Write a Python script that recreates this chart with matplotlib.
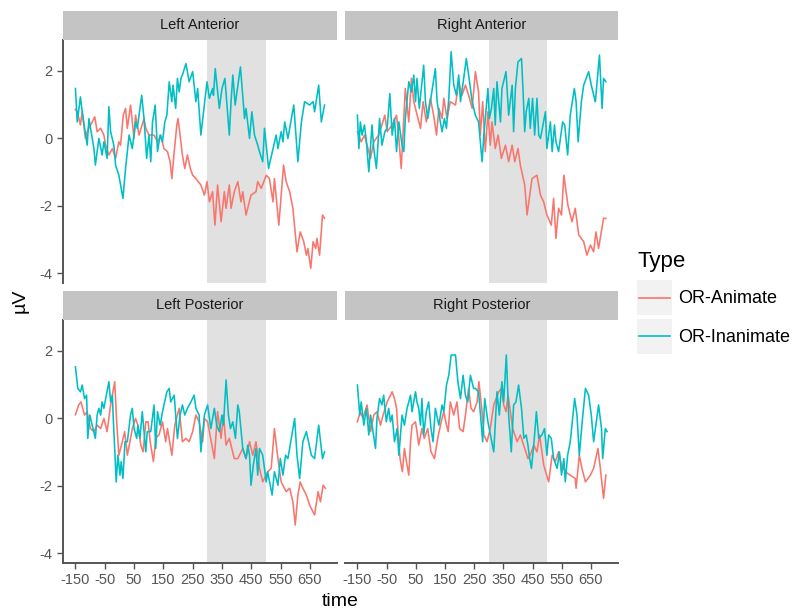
import matplotlib
matplotlib.use('Agg')
import matplotlib.pyplot as plt
from matplotlib.patches import Rectangle
from matplotlib.lines import Line2D

plt.rcParams['font.family'] = ['Liberation Sans', 'DejaVu Sans']
plt.rcParams['axes.unicode_minus'] = False

# ---------------- data ----------------
types = ['OR-Animate', 'OR-Inanimate']
colors = ['#F8766D', '#00BFC4']
panels = ['Left Anterior', 'Right Anterior', 'Left Posterior', 'Right Posterior']
x_ticks = [-150, -50, 50, 150, 250, 350, 450, 550, 650]
x_tick_labels = ['-150', '-50', '50', '150', '250', '350', '450', '550', '650']
y_ticks = [-4, -2, 0, 2]
y_tick_labels = ['-4', '-2', '0', '2']
window = [300, 500]

la_animate = [(-150, 0.85), (-144, 0.78), (-133, 0.39), (-127, 0.78), (-116, -0.01), (-110, 0.19), (-84, 0.63),
              (-76, 0.19), (-64, 0.29), (-53, 0.09), (-47, -0.21), (-36, -0.50), (-24, -0.31), (-13, -0.60),
              (-2, -0.11), (4, -0.21), (13, 0.68), (21, 0.88), (27, 0.29), (38, 0.98), (50, -0.01), (55, 0.68),
              (67, 0.09), (84, 0.58), (90, 0.29), (101, 0.09), (118, 0.09), (130, -0.11), (141, 0.09),
              (152, -0.31), (164, -0.40), (173, -0.70), (179, -1.20), (187, -0.40), (196, 0.39), (200, 0.58),
              (207, 0.09), (215, -0.50), (223, -0.90), (232, -0.50), (242, -0.90), (250, -1.10), (261, -1.20),
              (278, -1.39), (290, -1.69), (299, -1.29), (307, -1.89), (318, -1.59), (326, -2.58), (335, -1.39),
              (347, -2.48), (358, -1.59), (364, -2.08), (375, -1.39), (381, -2.08), (392, -1.59), (404, -1.29),
              (415, -1.89), (421, -1.59), (432, -2.28), (449, -1.69), (466, -1.59), (472, -1.29), (484, -1.49),
              (501, -1.10), (512, -1.20), (524, -1.89), (529, -1.20), (544, -2.58), (552, -1.69), (560, -0.80),
              (569, -1.29), (581, -1.59), (592, -2.08), (606, -3.37), (617, -2.78), (629, -3.07), (638, -3.47),
              (643, -3.27), (653, -3.86), (661, -3.07), (670, -3.27), (674, -2.97), (683, -3.47), (693, -2.28),
              (700, -2.38)]

la_inanimate = [(-150, 1.47), (-144, 0.48), (-133, 1.22), (-127, 0.78), (-110, -0.21), (-104, 0.58), (-87, -0.31),
                (-82, -0.80), (-70, -0.01), (-59, -0.50), (-53, -0.11), (-42, -0.60), (-36, 0.93), (-30, 0.19),
                (-19, -0.21), (-13, -0.80), (-2, -1.10), (4, -1.39), (12, -1.79), (21, -0.90), (33, 0.09),
                (44, -0.31), (55, 0.48), (61, 0.29), (76, 1.27), (84, 0.58), (93, -0.60), (101, 0.09), (107, -0.70),
                (113, 0.48), (122, 0.98), (130, -0.40), (139, 0.09), (147, -0.11), (155, 0.48), (162, 0.68),
                (170, 1.67), (179, 1.08), (183, 1.57), (192, 0.88), (198, 1.77), (204, 1.37), (210, 1.77),
                (215, 1.87), (227, 2.21), (238, 1.67), (250, 1.97), (261, 1.08), (267, 1.47), (278, 0.09),
                (299, 1.67), (307, 1.18), (318, 1.47), (321, 1.27), (327, 2.06), (341, 0.88), (350, 1.47),
                (360, 1.77), (375, 0.09), (381, 1.08), (387, 1.87), (395, 0.98), (413, 2.11), (427, 0.58),
                (432, 0.88), (444, -0.01), (452, 0.78), (461, 0.09), (472, -0.21), (478, -0.40), (489, -0.70),
                (495, 0.29), (509, -0.90), (514, -0.70), (535, 0.09), (541, -0.31), (552, 0.19), (558, -0.11),
                (564, 0.48), (575, -0.01), (595, 0.98), (609, -0.70), (621, 0.48), (632, 1.08), (649, 0.98),
                (661, 1.08), (666, 0.78), (680, 1.57), (689, 0.48), (700, 0.98)]

ra_animate = [(-150, 0.19), (-137, -0.11), (-126, 0.09), (-105, -0.60), (-94, -0.11), (-77, 0.09), (-56, 0.68),
              (-48, 0.19), (-31, 0.39), (-16, 0.68), (-8, -0.01), (0, -0.90), (6, 0.09), (14, 1.47), (26, 0.48),
              (35, 1.77), (43, 1.08), (66, 0.29), (75, 1.08), (86, 0.48), (100, 1.18), (111, 0.68), (121, 0.09),
              (129, 0.88), (140, 0.58), (146, 1.18), (157, 0.58), (168, 1.08), (186, 0.98), (197, 1.67),
              (208, 1.27), (220, 1.57), (231, 1.27), (243, 0.88), (254, 1.97), (265, 1.37), (271, 0.09),
              (279, 1.08), (288, -0.40), (297, 0.78), (305, -0.21), (311, 0.48), (322, -0.31), (332, 0.09),
              (343, -0.60), (357, -0.21), (368, -0.70), (380, -0.21), (389, -0.70), (400, -0.31), (408, -0.80),
              (423, -1.39), (431, -2.28), (448, -1.20), (465, -1.10), (477, -1.69), (488, -1.89), (499, -2.28),
              (514, -2.58), (522, -1.79), (530, -2.97), (539, -2.08), (549, -2.28), (557, -1.10), (571, -1.99),
              (585, -2.48), (596, -2.08), (608, -2.87), (625, -3.07), (636, -3.47), (648, -3.17), (659, -3.37),
              (667, -2.78), (676, -3.27), (693, -2.38), (701, -2.38)]

ra_inanimate = [(-150, 0.68), (-145, -0.31), (-140, 0.48), (-134, 0.09), (-126, 0.39), (-119, -0.11), (-111, -1.00),
                (-100, 0.39), (-94, -0.31), (-85, -0.90), (-74, 0.58), (-66, -0.21), (-56, 0.19), (-48, 0.29),
                (-39, 1.32), (-31, 0.09), (-23, 0.58), (-16, -0.40), (-8, 0.48), (3, -0.21), (9, -0.40), (14, 0.58),
                (26, 1.67), (35, 1.37), (43, 1.87), (49, 1.08), (54, 1.77), (62, 0.88), (77, 2.16), (83, 1.08),
                (91, 0.58), (117, 2.06), (123, 1.08), (134, 0.48), (140, 0.19), (148, 0.58), (155, 0.29),
                (163, 1.18), (171, 2.56), (180, 1.57), (189, 1.27), (197, 1.87), (203, 1.08), (214, 1.77),
                (223, 2.36), (231, 1.87), (243, 1.08), (254, 0.68), (265, 0.48), (277, -0.70), (283, 0.09),
                (297, 1.47), (302, 0.58), (309, 0.88), (317, 1.47), (322, 0.39), (328, 1.67), (340, 0.48),
                (345, 1.47), (359, 1.97), (368, 0.68), (380, 1.57), (385, 0.19), (391, 1.47), (400, 2.26),
                (412, 2.36), (417, 1.47), (423, 0.19), (428, 0.78), (437, 1.18), (442, 0.29), (450, 1.18),
                (457, 0.09), (465, 1.18), (471, 0.09), (477, -0.01), (494, 0.78), (499, -0.31), (511, 0.48),
                (517, -0.40), (525, 0.39), (530, -0.11), (539, -0.40), (553, 0.48), (560, 0.39), (570, -0.50),
                (579, 0.68), (593, 1.47), (599, 1.08), (606, -0.11), (617, 1.08), (625, 1.57), (642, 1.97),
                (651, 1.57), (662, 1.18), (665, 1.08), (679, 2.46), (688, 0.88), (693, 1.77), (701, 1.67)]

lp_animate = [(-150, 0.10), (-139, 0.39), (-131, 0.48), (-119, 0.09), (-110, 0.19), (-99, -0.31), (-87, -0.40),
              (-76, -0.21), (-64, -0.31), (-53, -0.01), (-42, -0.40), (-30, 0.39), (-16, 1.08), (-10, -0.01),
              (-2, -1.10), (10, -0.70), (18, -0.40), (27, -1.10), (36, -0.70), (44, -0.31), (55, -0.01),
              (63, -0.21), (73, -0.80), (81, -1.00), (90, -0.11), (98, -0.11), (105, -0.70), (116, -1.29),
              (124, -0.60), (135, -0.50), (147, -0.11), (158, -0.70), (164, -0.31), (179, -1.10), (189, -0.21),
              (198, 0.09), (204, 0.29), (215, -0.70), (227, -0.60), (238, -0.70), (250, -0.40), (261, 0.09),
              (272, -0.11), (284, -0.70), (290, -0.01), (301, -0.11), (324, -1.20), (335, 0.19), (347, -0.60),
              (355, 0.09), (364, -0.80), (375, -0.60), (392, -1.20), (404, -1.20), (421, -0.90), (432, -1.20),
              (444, -0.70), (455, -1.10), (466, -0.70), (478, -1.49), (489, -1.89), (506, -1.59), (518, -1.49),
              (529, -0.31), (541, -1.20), (552, -1.89), (569, -2.18), (581, -2.08), (592, -2.48), (600, -3.17),
              (609, -2.28), (617, -1.89), (626, -2.08), (638, -2.28), (649, -2.58), (666, -2.87), (678, -2.18),
              (686, -2.48), (695, -1.99), (703, -2.08)]

lp_inanimate = [(-150, 1.52), (-142, 0.88), (-133, 0.78), (-127, 0.98), (-119, 0.58), (-112, 0.68), (-108, -0.60),
                (-101, 0.09), (-93, -0.21), (-82, -0.60), (-76, 0.09), (-70, 0.29), (-64, 0.09), (-59, 0.48),
                (-53, 0.29), (-36, 1.08), (-30, 0.48), (-24, 0.68), (-21, -0.01), (-15, -1.10), (-11, -1.89),
                (-5, -1.10), (2, -1.69), (6, -1.29), (12, -1.79), (19, -0.70), (27, -0.70), (38, 0.09), (44, 0.29),
                (50, -0.31), (59, -0.60), (63, -0.21), (70, -0.60), (78, 0.19), (90, -1.00), (95, -0.40),
                (107, -0.40), (118, 0.39), (124, -0.90), (130, 0.19), (139, -0.21), (147, 0.19), (162, 0.78),
                (170, 0.88), (175, 0.48), (187, 0.68), (192, 0.09), (198, -0.60), (207, 0.09), (215, 0.39),
                (223, 0.09), (232, 0.29), (244, 0.48), (255, 0.68), (261, 0.29), (272, 0.09), (278, -1.00),
                (290, 0.09), (301, 0.39), (312, -0.31), (324, 0.29), (332, -0.21), (341, -0.40), (350, 0.09),
                (355, -0.21), (364, 1.13), (372, 0.09), (379, -0.31), (387, -0.11), (396, -0.60), (404, 0.39),
                (409, 0.19), (421, -0.90), (432, -1.20), (438, -0.80), (444, -1.10), (449, -1.99), (457, -1.39),
                (466, -0.90), (472, -1.69), (478, -0.90), (489, -1.10), (501, -1.89), (506, -1.59), (521, -2.28),
                (529, -1.59), (541, -1.99), (549, -1.20), (558, -1.69), (567, -1.10), (575, -1.20), (598, -0.01),
                (606, -1.10), (615, -1.79), (626, -0.70), (638, -0.40), (655, -1.10), (666, -1.20), (680, -0.21),
                (693, -1.20), (700, -1.00)]

rp_animate = [(-150, -0.11), (-140, 0.19), (-131, -0.01), (-117, 0.39), (-105, -0.40), (-94, 0.09), (-83, 0.19),
              (-71, -0.21), (-62, 0.09), (-48, 0.48), (-31, 0.78), (-23, 0.58), (-16, 0.29), (-11, -0.40),
              (-4, -1.20), (4, -1.59), (11, -0.90), (18, -1.29), (26, -1.69), (32, -0.70), (37, -0.21), (49, -0.11),
              (54, -0.40), (60, -0.80), (71, -0.31), (79, -0.60), (91, -0.31), (102, -1.00), (114, -1.20),
              (125, -0.60), (137, -0.11), (146, 0.19), (155, -0.21), (161, -0.40), (168, 0.48), (180, 0.09),
              (191, 0.48), (200, -0.31), (212, -0.40), (220, 0.09), (231, 0.88), (239, 0.29), (248, 0.19),
              (260, 0.48), (266, 1.08), (277, 0.19), (283, -0.50), (294, -0.70), (305, -0.31), (317, 0.39),
              (334, 0.78), (343, 0.88), (351, 0.39), (359, 0.19), (366, 0.68), (374, 0.19), (382, -0.31),
              (397, -0.70), (408, -0.50), (423, -0.90), (434, -1.20), (442, -1.10), (454, -0.80), (465, -1.00),
              (474, -0.50), (488, -1.39), (505, -1.89), (517, -1.10), (528, -1.29), (539, -1.00), (549, -1.39),
              (562, -1.59), (579, -1.69), (596, -1.79), (599, -2.08), (610, -1.10), (619, -1.49), (631, -1.89),
              (648, -1.69), (659, -1.49), (674, -0.90), (682, -1.49), (693, -2.38), (701, -1.69)]

rp_inanimate = [(-150, 0.98), (-142, 0.09), (-137, 0.48), (-128, -0.21), (-119, 0.29), (-111, -0.50), (-105, 0.09),
                (-88, -0.90), (-83, -0.01), (-74, 0.58), (-66, 0.39), (-60, 0.68), (-51, -0.11), (-43, 0.29),
                (-37, -0.11), (-31, 0.09), (-23, -0.70), (-14, -0.31), (-8, -1.10), (3, 0.09), (11, -0.21),
                (20, 0.29), (32, 0.68), (37, 0.19), (49, 0.78), (54, 0.48), (60, 0.29), (66, -0.21), (71, 0.58),
                (77, -0.50), (86, 0.19), (94, 0.48), (102, -0.31), (109, -0.70), (117, 0.29), (129, -0.21),
                (140, 0.39), (146, 0.19), (155, 0.98), (163, 1.27), (171, 1.87), (186, 1.87), (194, 1.08),
                (203, 0.58), (212, 1.27), (220, 0.68), (228, 0.48), (237, 1.27), (248, 0.88), (254, 0.88),
                (265, 0.78), (279, -0.70), (286, 0.58), (297, -0.11), (317, -1.00), (328, 0.78), (336, 0.09),
                (345, 1.08), (351, 0.48), (360, 1.87), (368, 0.09), (377, -1.00), (385, 0.39), (393, 0.48),
                (402, 0.98), (412, 0.29), (420, -0.60), (428, -0.50), (434, -0.80), (440, -1.20), (446, -1.49),
                (454, -0.80), (463, 0.19), (471, -0.60), (482, -0.50), (491, -0.31), (499, -1.10), (505, -0.50),
                (514, -0.60), (522, -1.20), (534, -1.49), (542, -1.00), (549, -1.69), (557, -1.20), (562, -1.89),
                (570, -1.10), (579, -0.70), (594, 0.58), (602, 0.09), (610, -1.10), (617, -0.40), (622, 0.09),
                (631, 0.88), (642, 0.68), (651, 0.09), (659, -0.70), (665, -0.31), (676, 0.39), (686, -0.31),
                (690, -1.20), (699, -0.31), (705, -0.40)]

series = {
    'Left Anterior': [la_animate, la_inanimate],
    'Right Anterior': [ra_animate, ra_inanimate],
    'Left Posterior': [lp_animate, lp_inanimate],
    'Right Posterior': [rp_animate, rp_inanimate],
}

# ---------------- layout ----------------
W, H = 799, 611
fig = plt.figure(figsize=(W / 100, H / 100), dpi=100)


def box(x0, y0, x1, y1):
    return [x0 / W, 1 - y1 / H, (x1 - x0) / W, (y1 - y0) / H]


cols = [(63, 337), (345, 618)]
rows = [(39.6, 282.5, 10.5), (319.6, 562.5, 290.5)]
axis_col = '#555555'
tick_lab = '#555555'
strip_col = '#C4C4C4'

for i, name in enumerate(panels):
    r, c = divmod(i, 2)
    x0, x1 = cols[c]
    y0, y1, s0 = rows[r]
    ax = fig.add_axes(box(x0, y0, x1, y1))
    ax.set_facecolor('white')
    ax.axvspan(window[0], window[1], color='#E1E1E1', lw=0, zorder=0)
    for k, pts in enumerate(series[name]):
        xs = [p[0] for p in pts]
        ys = [p[1] for p in pts]
        ax.plot(xs, ys, color=colors[k], lw=1.15, zorder=2 + k, solid_joinstyle='round')
    ax.set_xlim(-192.5, 742.5)
    ax.set_ylim(-4.28, 2.92)
    for sp in ['top', 'right']:
        ax.spines[sp].set_visible(False)
    ax.spines['left'].set_visible(c == 0)
    ax.spines['bottom'].set_visible(r == 1)
    for sp in ['left', 'bottom']:
        ax.spines[sp].set_color(axis_col)
        ax.spines[sp].set_linewidth(1.4)
    ax.set_xticks(x_ticks)
    ax.set_xticklabels(x_tick_labels)
    ax.set_yticks(y_ticks)
    ax.set_yticklabels(y_tick_labels)
    ax.tick_params(axis='both', length=4, width=1.0, color=axis_col, labelcolor=tick_lab,
                   labelsize=10.5, pad=3.5)
    if c != 0:
        ax.tick_params(axis='y', left=False, labelleft=False)
    if r != 1:
        ax.tick_params(axis='x', bottom=False, labelbottom=False)
    # strip
    sax = fig.add_axes(box(x0, s0, x1, y0))
    sax.set_facecolor(strip_col)
    sax.set_xticks([])
    sax.set_yticks([])
    for sp in sax.spines.values():
        sp.set_visible(False)
    sax.text(0.5, 0.5, name, ha='center', va='center', fontsize=10.5, color='#1A1A1A',
             transform=sax.transAxes)

fig.text(340.5 / W, 1 - 601 / H, 'time', ha='center', va='center', fontsize=14, color='black')
fig.text(20 / W, 1 - 301 / H, 'µV', ha='center', va='center', rotation=90, fontsize=14, color='black')

# ---------------- legend ----------------
lax = fig.add_axes([0, 0, 1, 1], facecolor='none')
lax.set_xlim(0, W)
lax.set_ylim(H, 0)
lax.axis('off')
lax.text(637, 262, 'Type', ha='left', va='center', fontsize=16, color='black')
for k, t in enumerate(types):
    top = 280 + k * 38.5
    lax.add_patch(Rectangle((637, top), 35, 35, facecolor='#F2F2F2', edgecolor='none'))
    lax.add_line(Line2D([639, 670], [top + 17.5, top + 17.5], color=colors[k], lw=1.2))
    lax.text(678, top + 18.5, t, ha='left', va='center', fontsize=13, color='black')

fig.savefig('out.png', dpi=100)
